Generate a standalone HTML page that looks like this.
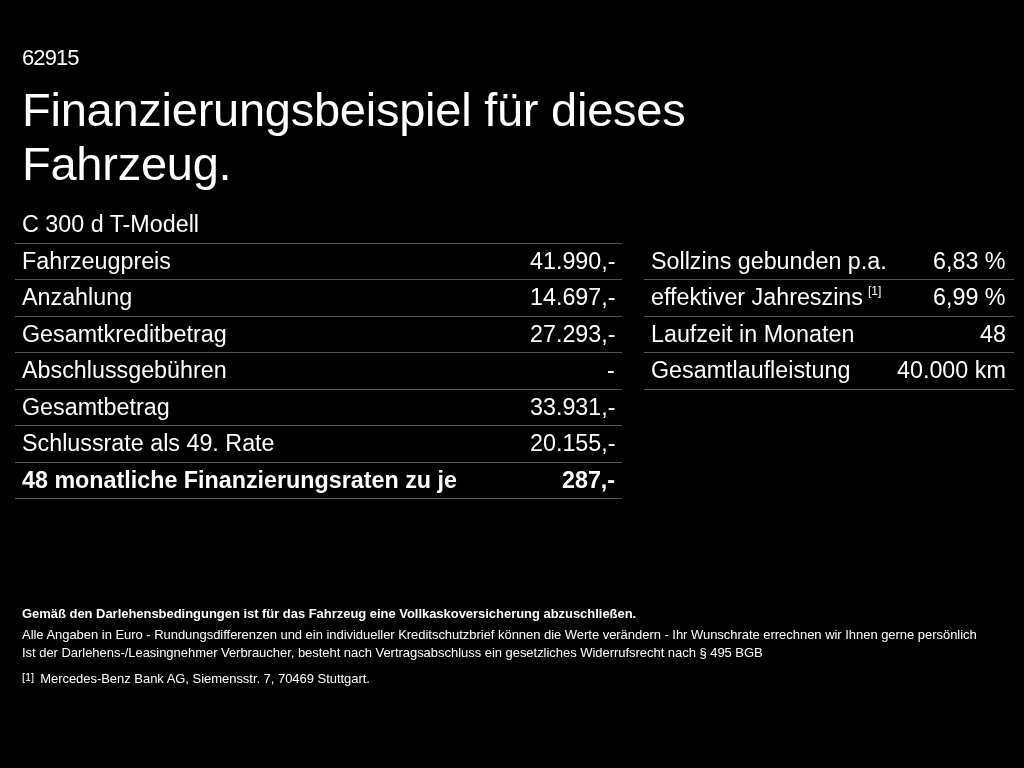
<!DOCTYPE html>
<html><head><meta charset="utf-8">
<style>
html,body{margin:0;padding:0;background:#000;}
body{width:1024px;height:768px;overflow:hidden;position:relative;-webkit-font-smoothing:antialiased;color:#fff;font-family:"Liberation Sans",sans-serif;}
.a{position:absolute;white-space:nowrap;line-height:1;will-change:transform;}
.hl{position:absolute;height:1px;background:#565656;}
#num{left:22px;top:47px;font-size:22px;letter-spacing:-0.9px;}
.title{left:22px;font-size:47px;letter-spacing:-0.25px;}
#model{left:22px;top:213px;font-size:23.3px;}
.l{left:22px;font-size:23.3px;}
.r{right:409px;font-size:23.3px;text-align:right;}
.l2{left:651px;font-size:23.3px;}
.r2{right:18px;font-size:23.3px;text-align:right;}
.b{font-weight:bold;}
.sup{font-size:12px;position:relative;top:-10px;margin-left:5px;}
.f{left:22px;font-size:13px;letter-spacing:-0.035px;}
.fsup{font-size:11px;position:relative;top:-2px;margin-right:6px;}
</style></head><body>
<div class="a" id="num">62915</div>
<div class="a title" style="top:86px">Finanzierungsbeispiel für dieses</div>
<div class="a title" style="top:140px">Fahrzeug.</div>
<div class="a" id="model">C 300 d T-Modell</div>

<div class="hl" style="left:15px;width:607px;top:243px"></div>
<div class="hl" style="left:15px;width:607px;top:279px"></div>
<div class="hl" style="left:15px;width:607px;top:316px"></div>
<div class="hl" style="left:15px;width:607px;top:352px"></div>
<div class="hl" style="left:15px;width:607px;top:389px"></div>
<div class="hl" style="left:15px;width:607px;top:425px"></div>
<div class="hl" style="left:15px;width:607px;top:462px"></div>
<div class="hl" style="left:15px;width:607px;top:498px"></div>

<div class="hl" style="left:644px;width:370px;top:279px"></div>
<div class="hl" style="left:644px;width:370px;top:316px"></div>
<div class="hl" style="left:644px;width:370px;top:352px"></div>
<div class="hl" style="left:644px;width:370px;top:389px"></div>

<div class="a l" style="top:250px">Fahrzeugpreis</div><div class="a r" style="top:250px">41.990,-</div>
<div class="a l" style="top:286px">Anzahlung</div><div class="a r" style="top:286px">14.697,-</div>
<div class="a l" style="top:323px">Gesamtkreditbetrag</div><div class="a r" style="top:323px">27.293,-</div>
<div class="a l" style="top:359px">Abschlussgebühren</div><div class="a r" style="top:359px">-</div>
<div class="a l" style="top:396px">Gesamtbetrag</div><div class="a r" style="top:396px">33.931,-</div>
<div class="a l" style="top:432px">Schlussrate als 49. Rate</div><div class="a r" style="top:432px">20.155,-</div>
<div class="a l b" style="top:469px">48 monatliche Finanzierungsraten zu je</div><div class="a r b" style="top:469px">287,-</div>

<div class="a l2" style="top:250px">Sollzins gebunden p.a.</div><div class="a r2" style="top:250px">6,83 %</div>
<div class="a l2" style="top:286px">effektiver Jahreszins<span class="sup">[1]</span></div><div class="a r2" style="top:286px">6,99 %</div>
<div class="a l2" style="top:323px">Laufzeit in Monaten</div><div class="a r2" style="top:323px">48</div>
<div class="a l2" style="top:359px">Gesamtlaufleistung</div><div class="a r2" style="top:359px">40.000 km</div>

<div class="a f b" style="top:607px">Gemäß den Darlehensbedingungen ist für das Fahrzeug eine Vollkaskoversicherung abzuschließen.</div>
<div class="a f" style="top:628px">Alle Angaben in Euro - Rundungsdifferenzen und ein individueller Kreditschutzbrief können die Werte verändern - Ihr Wunschrate errechnen wir Ihnen gerne persönlich</div>
<div class="a f" style="top:646px">Ist der Darlehens-/Leasingnehmer Verbraucher, besteht nach Vertragsabschluss ein gesetzliches Widerrufsrecht nach § 495 BGB</div>
<div class="a f" style="top:672px"><span class="fsup">[1]</span>Mercedes-Benz Bank AG, Siemensstr. 7, 70469 Stuttgart.</div>
</body></html>
